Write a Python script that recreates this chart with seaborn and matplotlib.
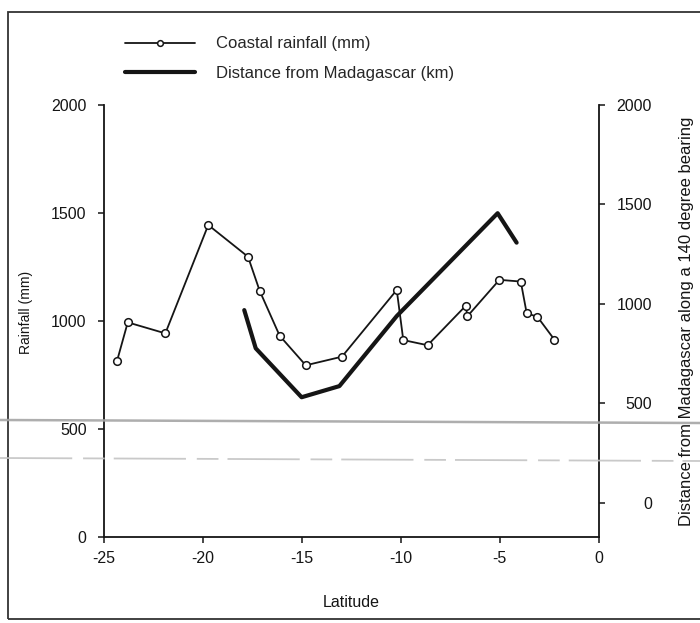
import matplotlib
matplotlib.use("Agg")
import matplotlib.pyplot as plt
from matplotlib.lines import Line2D
from matplotlib.patches import Rectangle
import seaborn as sns
import pandas as pd

# Coastal rainfall stations (latitude, annual rainfall in mm)
rain_lat = [-24.34, -23.80, -21.90, -19.73, -17.72, -17.13, -16.12, -14.80,
            -12.97, -10.20, -9.87, -8.64, -6.71, -6.63, -5.01, -3.93, -3.63,
            -3.09, -2.23]
rain_mm = [815, 993, 942, 1444, 1297, 1139, 931, 794, 834, 1143, 911, 887,
           1070, 1021, 1190, 1182, 1035, 1019, 913]

# Distance from Madagascar along a 140 degree bearing (km)
dist_lat = [-17.91, -17.33, -15.01, -13.10, -10.20, -5.10, -4.14]
dist_km = [969, 777, 531, 587, 939, 1456, 1308]

x_ticks = [-25, -20, -15, -10, -5, 0]
left_ticks = [0, 500, 1000, 1500, 2000]
right_ticks = [0, 500, 1000, 1500, 2000]

rain_df = pd.DataFrame({"lat": rain_lat, "rain": rain_mm})
dist_df = pd.DataFrame({"lat": dist_lat, "dist": dist_km})

sns.set_style("ticks")
plt.rcParams["font.family"] = ["Liberation Sans", "DejaVu Sans"]
ink = "#151515"

fig = plt.figure(figsize=(7, 6.23), dpi=100)
ax = fig.add_axes([0.1486, 0.1385, 0.7064, 0.693])
ax2 = ax.twinx()

sns.lineplot(data=rain_df, x="lat", y="rain", ax=ax, sort=False,
             estimator=None, color=ink, lw=1.3, marker="o", ms=5.5,
             mfc="white", mec=ink, mew=1.1, label="Coastal rainfall (mm)")
sns.lineplot(data=dist_df, x="lat", y="dist", ax=ax2, sort=False,
             estimator=None, color=ink, lw=3.0,
             label="Distance from Madagascar (km)")

h1, l1 = ax.get_legend_handles_labels()
h2, l2 = ax2.get_legend_handles_labels()
for a in (ax, ax2):
    if a.get_legend() is not None:
        a.get_legend().remove()

ax.set_xlim(-25, 0)
ax.set_ylim(0, 2000)
ax2.set_ylim(-170, 2000)
ax.set_xticks(x_ticks)
ax.set_yticks(left_ticks)
ax2.set_yticks(right_ticks)
ax.set_xticklabels([str(t) for t in x_ticks])

for a in (ax, ax2):
    a.spines["top"].set_visible(False)
    for s in a.spines.values():
        s.set_color(ink)
        s.set_linewidth(1.3)
ax.spines["right"].set_visible(False)
ax2.spines["left"].set_visible(False)
ax2.spines["bottom"].set_visible(False)

ax.tick_params(axis="both", direction="out", length=4.5, width=1.1,
               color=ink, labelsize=11.5, labelcolor=ink)
ax.tick_params(axis="y", pad=8)
ax.tick_params(axis="x", pad=6)
ax2.tick_params(axis="y", direction="out", length=4.5, width=1.1, color=ink,
                labelsize=11.5, labelcolor=ink, pad=34)
for lbl in ax2.get_yticklabels():
    lbl.set_horizontalalignment("right")

ax.set_xlabel("Latitude", fontsize=11.5, color=ink)
ax.xaxis.set_label_coords(0.5, -0.135)
ax.set_ylabel("Rainfall (mm)", fontsize=10, color=ink)
ax.yaxis.set_label_coords(-0.1436, 0.52)
ax2.set_ylabel("Distance from Madagascar along a 140 degree bearing",
               fontsize=12, color=ink)
ax2.yaxis.set_label_coords(1.162, 0.5)

fig.legend(h1 + h2, l1 + l2, loc="upper left",
           bbox_to_anchor=(0.166, 0.955), frameon=False, fontsize=12,
           handlelength=4.2, handletextpad=1.3, labelspacing=0.85,
           borderpad=0, markerscale=0.75)

# outer frame of the figure panel
fig.add_artist(Rectangle((8 / 700, 1 - 619 / 623), 1.2, (619 - 12) / 623,
                         transform=fig.transFigure, fill=False,
                         edgecolor="#333333", lw=1.3, clip_on=False))

# faint horizontal streaks across the page
fig.add_artist(Line2D([0, 1], [1 - 420 / 623, 1 - 423 / 623],
                      transform=fig.transFigure, color="#a5a5a5", lw=1.8,
                      alpha=0.9))
fig.add_artist(Line2D([0, 1], [1 - 458 / 623, 1 - 461 / 623],
                      transform=fig.transFigure, color="#c4c4c4", lw=1.3,
                      ls=(0, (40, 6, 12, 5)), alpha=0.9))

fig.savefig("out.png", dpi=100)
